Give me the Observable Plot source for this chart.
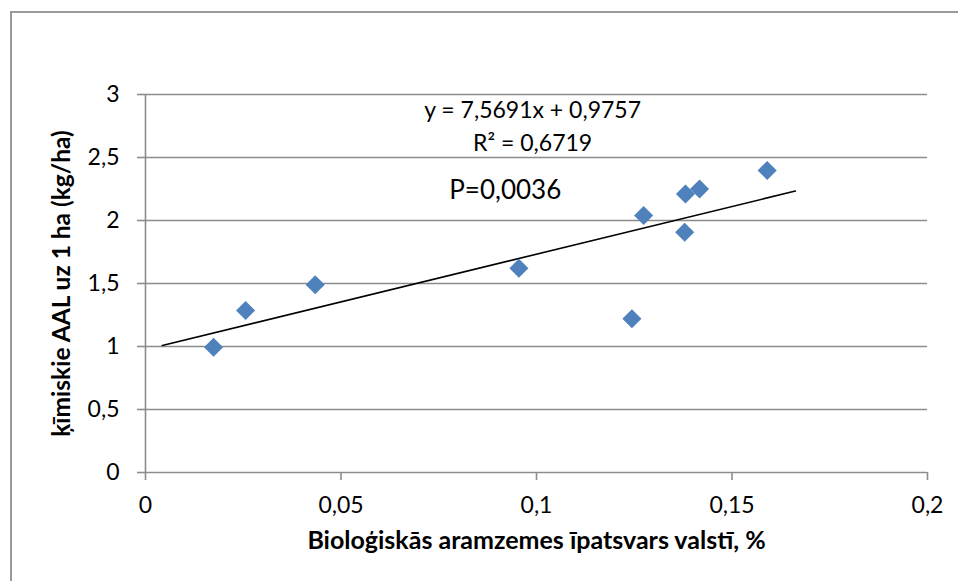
<!DOCTYPE html>
<html>
<head>
<meta charset="utf-8">
<script src="https://cdn.jsdelivr.net/npm/d3@7"></script>
<script src="https://cdn.jsdelivr.net/npm/@observablehq/plot@0.6"></script>
<style>
  html, body { margin: 0; padding: 0; background: #fff; }
  #wrap { position: relative; width: 958px; height: 581px; overflow: hidden; }
  #border { position: absolute; left: 10px; top: 11px; width: 1200px; height: 1200px;
            border-left: 2px solid #9a9a9a; border-top: 2px solid #9a9a9a; pointer-events: none; }
</style>
</head>
<body>
<div id="wrap"><div id="border"></div></div>
<script>
// Data
const share = [0.0174, 0.0256, 0.0434, 0.0955, 0.1244, 0.1274, 0.1381, 0.1417, 0.1379, 0.159];
const aal   = [0.994, 1.286, 1.49, 1.621, 1.22, 2.04, 2.21, 2.25, 1.907, 2.397];
const xTicks = [0, 0.05, 0.1, 0.15, 0.2];
const yTicks = [0, 0.5, 1, 1.5, 2, 2.5, 3];
const slope = 7.5691;
const intercept = 0.9757;
const trendX = [0.0043, 0.1662];
const eqText = "y = 7,5691x + 0,9757";
const r2Text = "R² = 0,6719";
const pText = "P=0,0036";
const xTitle = "Bioloģiskās aramzemes īpatsvars valstī, %";
const yTitle = "ķīmiskie AAL uz 1 ha (kg/ha)";

const points = share.map((x, i) => ({x, y: aal[i]}));
const trend = trendX.map(x => ({x, y: slope * x + intercept}));
const fmt = d => String(d).replace(".", ",");

const gridColor = "#8c8c8c";

const chart = Plot.plot({
  width: 958,
  height: 581,
  marginLeft: 145,
  marginRight: 31,
  marginTop: 94,
  marginBottom: 109,
  style: {fontFamily: "Lato, 'Open Sans', sans-serif", fontSize: "23px", background: "transparent", color: "#000"},
  x: {domain: [0, 0.2]},
  y: {domain: [0, 3]},
  marks: [
    Plot.ruleY(yTicks, {stroke: gridColor, strokeWidth: 1.6}),
    Plot.ruleX([0], {stroke: gridColor, strokeWidth: 1.6}),
    Plot.axisY({ticks: yTicks, tickSize: 8, tickPadding: 18, tickFormat: fmt, stroke: gridColor, strokeWidth: 1.6, label: null, fontSize: 23}),
    Plot.axisX({ticks: xTicks, tickSize: 8, tickPadding: 16, tickFormat: fmt, stroke: gridColor, strokeWidth: 1.6, label: null, fontSize: 23}),
    Plot.line(trend, {x: "x", y: "y", stroke: "#000", strokeWidth: 1.6}),
    Plot.dot(points, {x: "x", y: "y", symbol: "diamond2", r: 8.6, fill: "#4f81bd", stroke: "none"}),
    Plot.text([eqText], {x: 0.099, y: 2.873, text: d => d, fontSize: 23}),
    Plot.text([r2Text], {x: 0.099, y: 2.61, text: d => d, fontSize: 23}),
    Plot.text([pText], {x: 0.092, y: 2.238, text: d => d, fontSize: 26}),
    Plot.text([xTitle], {frameAnchor: "bottom", dy: 76, text: d => d, fontSize: 25, fontWeight: "bold"}),
    Plot.text([yTitle], {frameAnchor: "left", textAnchor: "middle", dx: -83, rotate: -90, text: d => d, fontSize: 24.5, fontWeight: "bold"})
  ]
});
document.getElementById("wrap").appendChild(chart);
chart.style.position = "absolute";
chart.style.left = "0";
chart.style.top = "0";
</script>
</body>
</html>
